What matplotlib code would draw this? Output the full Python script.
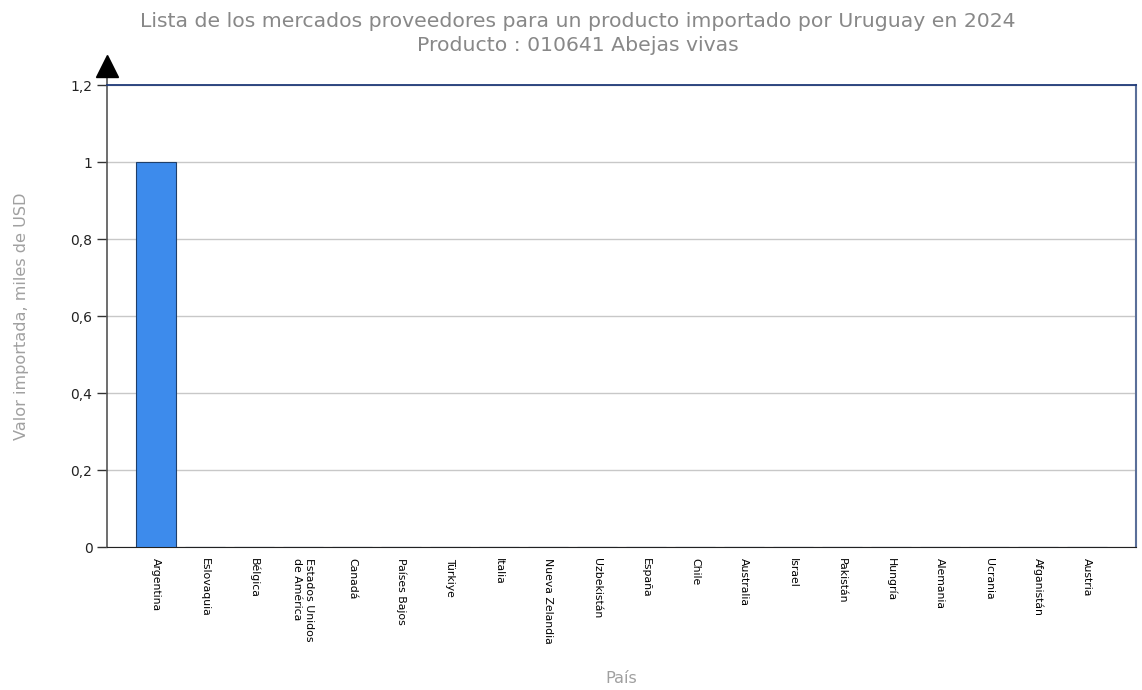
import matplotlib.pyplot as plt
from matplotlib.ticker import FuncFormatter

paises = ["Argentina", "Eslovaquia", "Bélgica", "Estados Unidos\nde América", "Canadá",
          "Países Bajos", "Türkiye", "Italia", "Nueva Zelandia", "Uzbekistán",
          "España", "Chile", "Australia", "Israel", "Pakistán",
          "Hungría", "Alemania", "Ucrania", "Afganistán", "Austria"]
valores = [1, 0, 0, 0, 0, 0, 0, 0, 0, 0, 0, 0, 0, 0, 0, 0, 0, 0, 0, 0]
yticks = [0, 0.2, 0.4, 0.6, 0.8, 1.0, 1.2]

fig = plt.figure(figsize=(11.42, 6.9), dpi=100)
ax = fig.add_axes([0.0937, 0.2072, 0.901, 0.6696])

x = list(range(len(paises)))
ax.bar(x, valores, width=0.8, color="#3d8bec", edgecolor="#1f3f6a", linewidth=0.8, zorder=3)

ax.set_xlim(-1, len(paises))
ax.set_ylim(0, 1.2)
ax.set_yticks(yticks)
ax.yaxis.set_major_formatter(FuncFormatter(lambda v, p: ("%g" % round(v, 1)).replace(".", ",")))
ax.grid(axis="y", color="#c8c8c8", linewidth=1, zorder=0)
ax.set_axisbelow(True)

ax.set_xticks(x)
ax.set_xticklabels(paises, rotation=270, fontsize=7.8, va="top", ha="center",
                   multialignment="left")
ax.tick_params(axis="x", length=0, pad=8)
ax.tick_params(axis="y", length=7, width=1, color="#333333", labelsize=10, labelcolor="#222222")

ax.spines["left"].set_color("#555555")
ax.spines["left"].set_linewidth(1.2)
ax.spines["bottom"].set_color("#222222")
ax.spines["top"].set_color("#1f3a78")
ax.spines["top"].set_linewidth(1.3)
ax.spines["right"].set_color("#5a6f99")
ax.spines["right"].set_linewidth(1.5)

# flecha del eje y
ax.plot([0, 0], [1.0, 1.016], transform=ax.transAxes, color="#555555", lw=1.2, clip_on=False)
ax.plot(0, 1.042, marker="^", markersize=16, color="black", transform=ax.transAxes, clip_on=False)

ax.set_ylabel("Valor importada, miles de USD", color="#a0a0a0", fontsize=11.6, labelpad=30)
ax.set_xlabel("País", color="#a0a0a0", fontsize=11.6)
ax.xaxis.set_label_coords(0.5, -0.268)

fig.text(0.506, 0.982, "Lista de los mercados proveedores para un producto importado por Uruguay en 2024\nProducto : 010641 Abejas vivas",
         ha="center", va="top", fontsize=14.7, color="#888888", linespacing=1.3)

fig.savefig("out.png", dpi=100)
